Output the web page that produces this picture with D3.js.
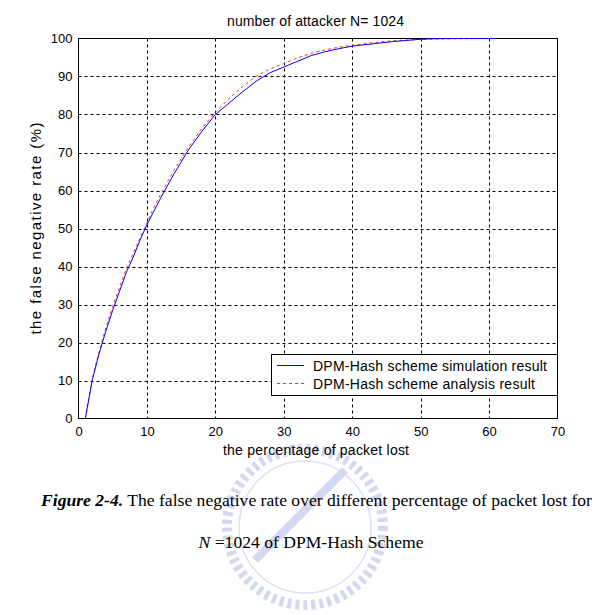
<!DOCTYPE html>
<html>
<head>
<meta charset="utf-8">
<script src="https://cdn.jsdelivr.net/npm/d3@7"></script>
<style>
  html, body { margin: 0; padding: 0; background: #fff; }
  svg { display: block; }
  .tick text { font-family: "Liberation Sans", Arial, sans-serif; font-size: 13px; fill: #000; }
</style>
</head>
<body>
<svg id="chart"></svg>
<script>
// Data
const lossPct = [1, 2, 3, 4, 5, 6, 7, 8, 9, 10, 11, 12, 14, 16, 18, 20, 22, 24, 26, 28, 30, 32, 34, 36, 38, 40, 42, 44, 46, 48, 50, 52, 55, 58, 61];
const simulation = [0, 10, 17, 23, 28.5, 33.5, 38.5, 42.5, 47, 51, 54.5, 58, 64.5, 70.5, 75.5, 80, 83, 86, 88.8, 91, 92.5, 94, 95.5, 96.5, 97.3, 98, 98.4, 98.8, 99.2, 99.5, 99.8, 99.95, 100, 100, 100];
const analysis = [0, 10.5, 17.5, 24, 29.5, 34.5, 39.5, 43.5, 47.5, 51.5, 55.5, 59, 65.5, 71.2, 76.3, 80.6, 84.2, 87.4, 90.1, 92, 93.4, 94.9, 96.1, 97, 97.7, 98.2, 98.7, 99.1, 99.4, 99.6, 99.75, 99.85, 99.93, 99.97, 100];
const xTicks = [0, 10, 20, 30, 40, 50, 60, 70];
const yTicks = [0, 10, 20, 30, 40, 50, 60, 70, 80, 90, 100];
const seriesNames = ["DPM-Hash scheme simulation result", "DPM-Hash scheme analysis result"];

const width = 616, height = 615;
const svg = d3.select("#chart").attr("width", width).attr("height", height);

const plot = { left: 78.5, right: 557.5, top: 38.5, bottom: 418.5 };

const x = d3.scaleLinear().domain([0, 70]).range([plot.left, plot.right]);
const y = d3.scaleLinear().domain([0, 100]).range([plot.bottom, plot.top]);

// faint watermark ring behind the caption
const wm = svg.append("g").attr("opacity", 0.3);
wm.append("circle").attr("cx", 305).attr("cy", 527).attr("r", 78)
  .attr("fill", "none").attr("stroke", "#6f82d2").attr("stroke-width", 10)
  .attr("stroke-dasharray", "4,4");
wm.append("circle").attr("cx", 305).attr("cy", 527).attr("r", 66)
  .attr("fill", "none").attr("stroke", "#8d9cdc").attr("stroke-width", 1.5);
wm.append("line").attr("x1", 255).attr("y1", 560).attr("x2", 345).attr("y2", 470)
  .attr("stroke", "#6f82d2").attr("stroke-width", 8);

// grid
const grid = svg.append("g").attr("stroke", "#000").attr("stroke-width", 1).attr("stroke-dasharray", "3,3");
grid.selectAll("line.v").data(xTicks.slice(1, -1)).join("line")
  .attr("x1", d => Math.round(x(d)) + 0.5).attr("x2", d => Math.round(x(d)) + 0.5)
  .attr("y1", plot.top).attr("y2", plot.bottom);
grid.selectAll("line.h").data(yTicks.slice(1, -1)).join("line")
  .attr("y1", d => Math.round(y(d)) + 0.5).attr("y2", d => Math.round(y(d)) + 0.5)
  .attr("x1", plot.left).attr("x2", plot.right);

// axes
const xAxis = svg.append("g").attr("transform", `translate(0,${plot.bottom})`)
  .call(d3.axisBottom(x).tickValues(xTicks).tickSize(0).tickPadding(8));
const yAxis = svg.append("g").attr("transform", `translate(${plot.left},0)`)
  .call(d3.axisLeft(y).tickValues(yTicks).tickSize(0).tickPadding(6));
xAxis.select(".domain").remove();
yAxis.select(".domain").remove();

// box
svg.append("rect")
  .attr("x", plot.left).attr("y", plot.top)
  .attr("width", plot.right - plot.left).attr("height", plot.bottom - plot.top)
  .attr("fill", "none").attr("stroke", "#000").attr("stroke-width", 1);

// lines
const line = vals => d3.line().x((d, i) => x(lossPct[i])).y(d => y(d))(vals);

svg.append("path").attr("d", line(analysis))
  .attr("fill", "none").attr("stroke", "#ff3030").attr("stroke-width", 1)
  .attr("stroke-dasharray", "3,3");
svg.append("path").attr("d", line(simulation))
  .attr("fill", "none").attr("stroke", "#0000ff").attr("stroke-width", 1);

// titles
const font = '"Liberation Sans", Arial, sans-serif';
svg.append("text").attr("x", 315.5).attr("y", 26)
  .attr("text-anchor", "middle").attr("font-family", font).attr("font-size", 14)
  .attr("textLength", 177).attr("lengthAdjust", "spacing")
  .text("number of attacker N= 1024");
svg.append("text").attr("x", 316).attr("y", 455)
  .attr("text-anchor", "middle").attr("font-family", font).attr("font-size", 14)
  .attr("textLength", 186).attr("lengthAdjust", "spacing")
  .text("the percentage of packet lost");
svg.append("text")
  .attr("transform", `translate(41,${(plot.top + plot.bottom) / 2}) rotate(-90)`)
  .attr("text-anchor", "middle").attr("font-family", font).attr("font-size", 15)
  .attr("textLength", 212).attr("lengthAdjust", "spacing")
  .text("the false negative rate (%)");

// legend
const lg = svg.append("g");
lg.append("rect").attr("x", 271.5).attr("y", 354.5).attr("width", plot.right - 271.5).attr("height", 41)
  .attr("fill", "#fff").attr("stroke", "#000");
const styles = [{ c: "#0000ff", dash: null, len: 234 }, { c: "#ff3030", dash: "3,3", len: 222 }];
seriesNames.forEach((name, i) => {
  const ly = 365.5 + i * 18;
  lg.append("line").attr("x1", 277).attr("x2", 304).attr("y1", ly).attr("y2", ly)
    .attr("stroke", styles[i].c).attr("stroke-width", 1).attr("stroke-dasharray", styles[i].dash);
  lg.append("text").attr("x", 313).attr("y", ly + 5)
    .attr("font-family", font).attr("font-size", 14)
    .attr("textLength", styles[i].len).attr("lengthAdjust", "spacing").text(name);
});

// caption
const cap = svg.append("g").attr("font-family", '"Liberation Serif", "Times New Roman", serif').attr("font-size", 17.6);
const c1 = cap.append("text").attr("x", 316.5).attr("y", 506).attr("text-anchor", "middle");
c1.append("tspan").attr("font-weight", "bold").attr("font-style", "italic").text("Figure 2-4.");
c1.append("tspan").text(" The false negative rate over different percentage of packet lost for");
const c2 = cap.append("text").attr("x", 311).attr("y", 548).attr("text-anchor", "middle");
c2.append("tspan").attr("font-style", "italic").text("N");
c2.append("tspan").text(" =1024 of DPM-Hash Scheme");
</script>
</body>
</html>
